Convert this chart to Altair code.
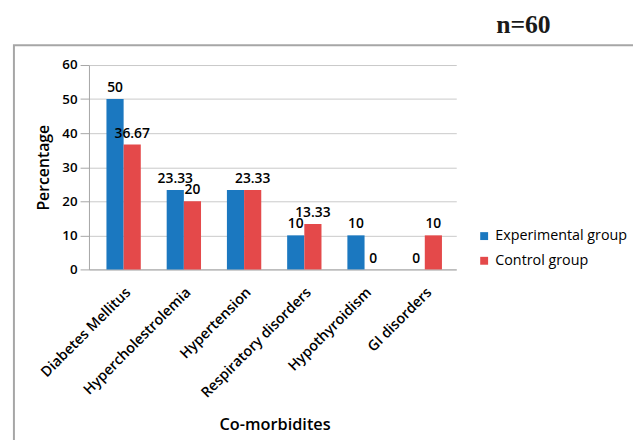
import altair as alt
import pandas as pd

categories = ["Diabetes Mellitus", "Hypercholestrolemia", "Hypertension",
              "Respiratory disorders", "Hypothyroidism", "GI disorders"]
series = ["Experimental group", "Control group"]
experimental = [50, 23.33, 23.33, 10, 10, 0]
control = [36.67, 20, 23.33, 13.33, 0, 10]
experimental_labels = ["50", "23.33", "", "10", "10", "0"]
control_labels = ["36.67", "20", "23.33", "13.33", "0", "10"]
y_ticks = [0, 10, 20, 30, 40, 50, 60]
colors = ["#1b78c0", "#e4494a"]
FONT = "Open Sans"

rows = []
for i, c in enumerate(categories):
    rows.append({"cat": c, "series": series[0], "value": experimental[i], "label": experimental_labels[i]})
    rows.append({"cat": c, "series": series[1], "value": control[i], "label": control_labels[i]})
df = pd.DataFrame(rows)

x_scale = alt.Scale(paddingInner=0.43, paddingOuter=0.264, align=0.55)
x_enc = alt.X("cat:N", sort=categories, scale=x_scale,
              axis=alt.Axis(title="Co-morbidites", labelAngle=315, labelFont=FONT,
                            labelFontSize=14.5, labelFontWeight=600, labelColor="#000",
                            labelPadding=16, ticks=False, domainColor="#a6a6a6",
                            titleFont=FONT, titleFontSize=16.5, titleFontWeight=600,
                            titleColor="#000", titleY=149, titleX=188, labelLimit=300))
y_enc = alt.Y("value:Q", scale=alt.Scale(domain=[0, 60]),
              axis=alt.Axis(title="Percentage", values=y_ticks, labelFont=FONT,
                            labelFontSize=13.5, labelFontWeight=600, labelColor="#000",
                            labelOverlap=False,
                            tickSize=9, tickColor="#a6a6a6", domainColor="#a6a6a6",
                            gridColor="#c9c9c9", labelPadding=3,
                            titleFont=FONT, titleFontSize=16, titleFontWeight=600,
                            titleColor="#000", titleX=-38, titleY=103.5))
xo = alt.XOffset("series:N", sort=series)

bars = alt.Chart(df).mark_bar(stroke=None).encode(
    x=x_enc,
    xOffset=xo,
    y=y_enc,
    color=alt.Color("series:N", sort=series,
                    scale=alt.Scale(domain=series, range=colors),
                    legend=alt.Legend(title=None, orient="none", legendX=393, legendY=166,
                                      symbolType="square", symbolSize=64, labelFont=FONT,
                                      labelFontSize=14.5, labelFontWeight=500, labelColor="#000",
                                      rowPadding=10, padding=0, symbolStrokeWidth=0)),
)

labels = alt.Chart(df).mark_text(font=FONT, fontSize=14, fontWeight=600, color="#000",
                                 baseline="alphabetic", dy=-7).encode(
    x=x_enc,
    xOffset=xo,
    y=y_enc,
    text="label:N",
)

box = alt.Chart(pd.DataFrame({"a": [0]})).mark_rect(fill=None, stroke="#a6a6a6", strokeWidth=2).encode(
    x=alt.value(-76), x2=alt.value(600), y=alt.value(-20), y2=alt.value(395))

title = alt.Chart(pd.DataFrame({"t": ["n=60"]})).mark_text(
    font="Liberation Serif", fontSize=26, fontWeight="bold", color="#1a1a1a",
    align="center", baseline="alphabetic").encode(
    x=alt.value(440), y=alt.value(-32), text="t:N")

chart = alt.layer(box, bars, labels, title).properties(
    width=372, height=207,
    autosize=alt.AutoSizeParams(type="none"),
    padding={"left": 82, "top": 55, "right": 179, "bottom": 170},
).configure_view(stroke=None).configure_axis(gridWidth=1)

chart.save("out.html", embed_options={"renderer": "svg", "actions": False})
